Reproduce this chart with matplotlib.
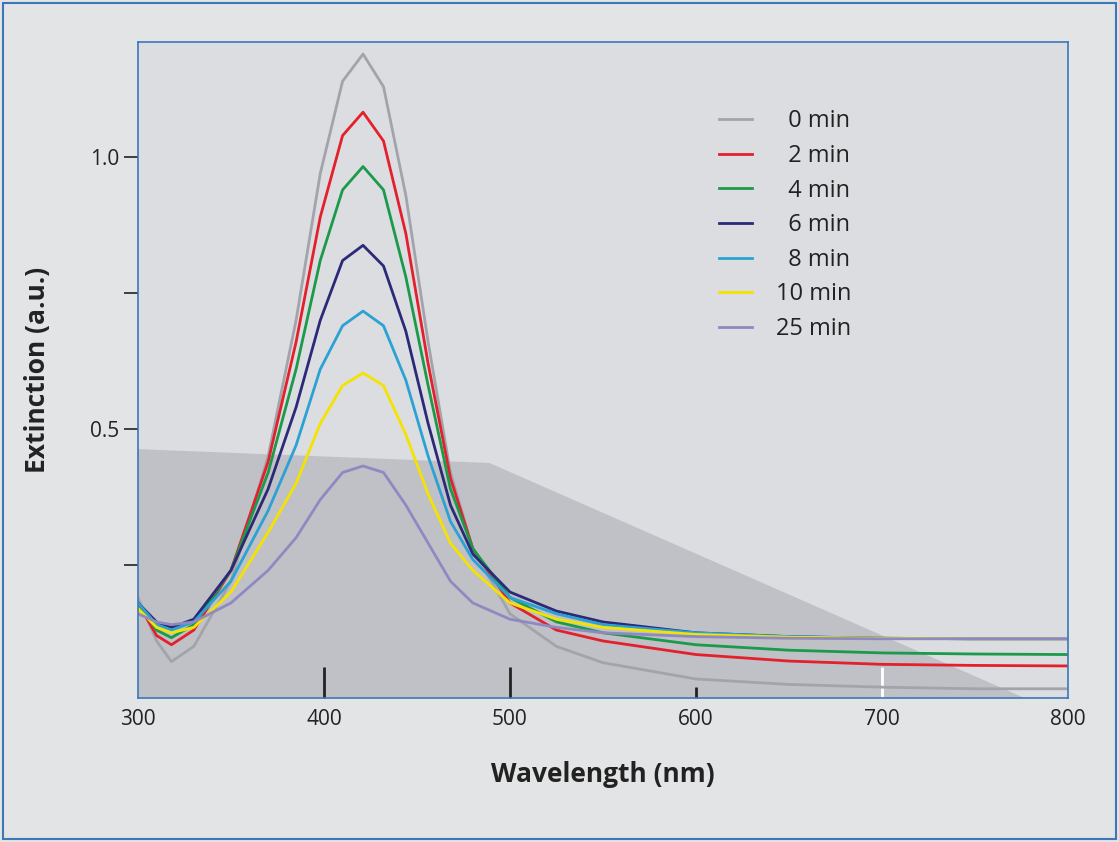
import matplotlib
matplotlib.use("Agg")
import matplotlib.pyplot as plt
from matplotlib.patches import Rectangle, Polygon

plt.rcParams['font.family'] = ['Open Sans', 'DejaVu Sans']

# wavelengths (nm) at which curves were read
wl = [300, 310, 318, 330, 350, 370, 385, 398, 410, 421, 432, 444, 456, 468, 480, 500, 525, 550, 600, 650, 700, 750, 800]

ext_0 = [0.19, 0.11, 0.072, 0.10, 0.22, 0.45, 0.70, 0.97, 1.14, 1.19, 1.13, 0.93, 0.66, 0.42, 0.28, 0.16, 0.10, 0.07, 0.04, 0.03, 0.025, 0.022, 0.022]
ext_2 = [0.18, 0.12, 0.103, 0.13, 0.24, 0.44, 0.66, 0.89, 1.04, 1.083, 1.03, 0.86, 0.62, 0.41, 0.28, 0.18, 0.13, 0.11, 0.085, 0.073, 0.067, 0.065, 0.064]
ext_4 = [0.18, 0.13, 0.116, 0.14, 0.24, 0.42, 0.61, 0.81, 0.94, 0.983, 0.94, 0.78, 0.58, 0.39, 0.28, 0.19, 0.145, 0.125, 0.103, 0.093, 0.088, 0.086, 0.085]
ext_6 = [0.18, 0.145, 0.135, 0.15, 0.24, 0.39, 0.54, 0.70, 0.81, 0.838, 0.80, 0.68, 0.51, 0.36, 0.27, 0.20, 0.165, 0.145, 0.125, 0.118, 0.115, 0.114, 0.114]
ext_8 = [0.18, 0.14, 0.13, 0.145, 0.22, 0.35, 0.47, 0.61, 0.69, 0.717, 0.69, 0.59, 0.45, 0.33, 0.26, 0.19, 0.16, 0.14, 0.125, 0.118, 0.115, 0.114, 0.114]
ext_10 = [0.17, 0.135, 0.125, 0.135, 0.20, 0.31, 0.40, 0.51, 0.58, 0.603, 0.58, 0.49, 0.38, 0.29, 0.24, 0.18, 0.15, 0.135, 0.122, 0.117, 0.115, 0.114, 0.114]
ext_25 = [0.16, 0.145, 0.14, 0.145, 0.18, 0.24, 0.30, 0.37, 0.42, 0.432, 0.42, 0.36, 0.29, 0.22, 0.18, 0.15, 0.135, 0.125, 0.118, 0.115, 0.114, 0.114, 0.114]

series = [ext_0, ext_2, ext_4, ext_6, ext_8, ext_10, ext_25]
labels = ["  0 min", "  2 min", "  4 min", "  6 min", "  8 min", "10 min", "25 min"]
colors = ["#a3a3ab", "#e3202b", "#1b9a4b", "#2b2a78", "#2ba2d4", "#f4e300", "#8f89c2"]

# shaded background region
shade_x = [300, 489, 780, 300]
shade_y = [0.463, 0.4375, 0.0, 0.0]

fig = plt.figure(figsize=(11.19, 8.42), dpi=100, facecolor="#e3e4e5")
fig.patches.append(Rectangle((0.003, 0.003), 0.994, 0.994, transform=fig.transFigure,
                             fill=False, edgecolor="#3a78b8", lw=1.5))
ax = fig.add_axes([0.1233, 0.171, 0.8311, 0.779])
ax.set_facecolor("#dcdde1")
ax.add_patch(Polygon(list(zip(shade_x, shade_y)), closed=True, facecolor="#c0c0c7", edgecolor="none", zorder=0))

for y, lab, c in zip(series, labels, colors):
    ax.plot(wl, y, color=c, lw=2, label=lab)

ax.set_xlim(300, 800)
ax.set_ylim(0.005, 1.212)
for s in ax.spines.values():
    s.set_color("#3a78b8")
    s.set_linewidth(1.2)

ax.set_xticks([300, 400, 500, 600, 700, 800])
ax.tick_params(axis='x', direction='in', length=22, width=2, colors='#222222', labelsize=15, pad=8)
ticks = ax.xaxis.get_major_ticks()
ticks[0].tick1line.set_visible(False)
ticks[5].tick1line.set_visible(False)
ticks[3].tick1line.set_markersize(8)
ticks[4].tick1line.set_color('white')
ticks[4].tick1line.set_markeredgecolor('white')
ax.set_yticks([0.25, 0.5, 0.75, 1.0])
ax.set_yticklabels(["", "0.5", "", "1.0"])
ax.tick_params(axis='y', direction='out', length=10, width=1.2, colors='#222222', labelsize=15)

ax.set_xlabel("Wavelength (nm)", fontsize=19, fontweight='bold', color='#222222', labelpad=22)
ax.set_ylabel("Extinction (a.u.)", fontsize=19, fontweight='bold', color='#222222', labelpad=28)

leg = ax.legend(loc='upper right', bbox_to_anchor=(0.79, 0.93), frameon=False, fontsize=17,
                handlelength=1.4, labelspacing=0.45, handletextpad=1.0)
for t in leg.get_texts():
    t.set_color('#222222')

fig.savefig("out.png", dpi=100, facecolor=fig.get_facecolor())
